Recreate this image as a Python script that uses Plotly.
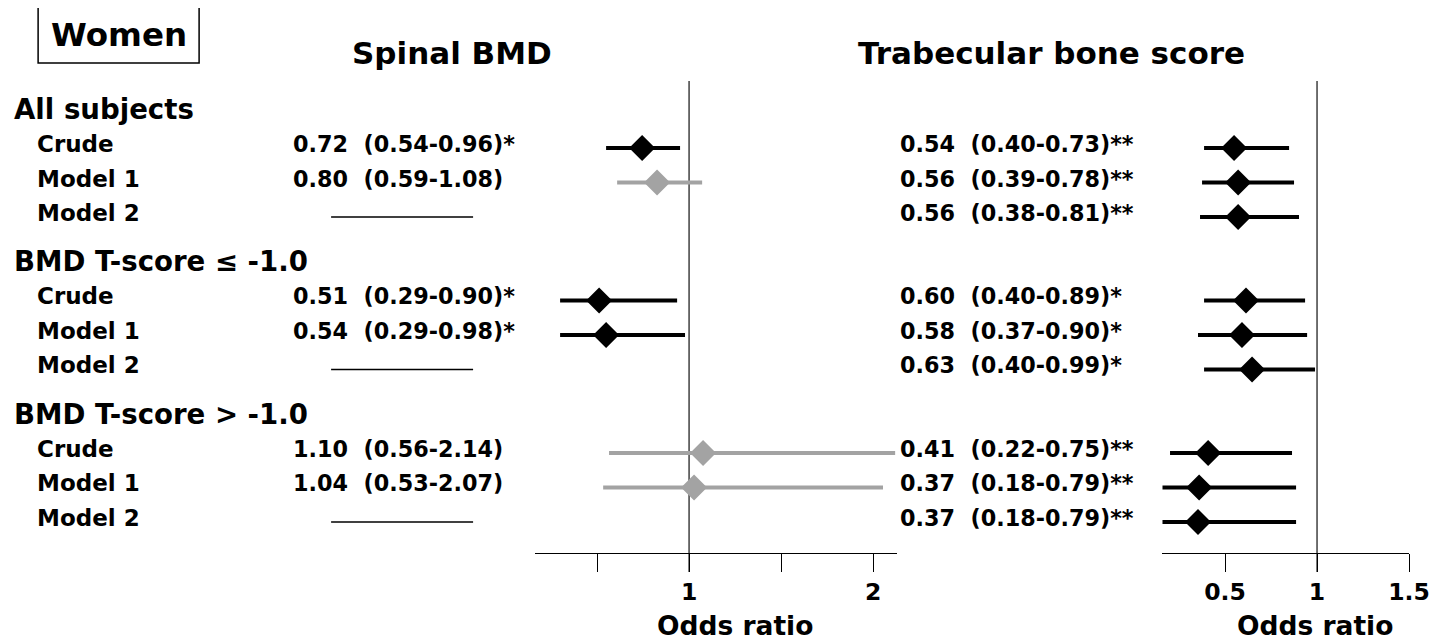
import plotly.graph_objects as go

# The page is shown with an 8px body margin and squeezed horizontally by SX.
# All layout numbers below are screen pixels of the 1449x643 picture.
OFF, SX = 8, 0.9857
W = int(round(1449 / SX - OFF)) + 1
H = 643 - OFF - 1

# ---------------- data ----------------
groups = ["All subjects", "BMD T-score \u2264 -1.0", "BMD T-score > -1.0"]
models = ["Crude", "Model 1", "Model 2"]

# Spinal BMD: odds ratio and CI as drawn (Model 2 not estimated)
bmd_or = [0.745, 0.826, None, 0.511, 0.549, None, 1.076, 1.027, None]
bmd_lo = [0.549, 0.609, None, 0.299, 0.299, None, 0.565, 0.533, None]
bmd_hi = [0.951, 1.071, None, 0.935, 0.978, None, 2.120, 2.054, None]
bmd_txt = ["0.72\u00a0\u00a0(0.54-0.96)*", "0.80\u00a0\u00a0(0.59-1.08)", None,
           "0.51\u00a0\u00a0(0.29-0.90)*", "0.54\u00a0\u00a0(0.29-0.98)*", None,
           "1.10\u00a0\u00a0(0.56-2.14)", "1.04\u00a0\u00a0(0.53-2.07)", None]

# Trabecular bone score
tbs_or = [0.549, 0.571, 0.571, 0.614, 0.592, 0.647, 0.408, 0.359, 0.353]
tbs_lo = [0.386, 0.375, 0.364, 0.386, 0.353, 0.386, 0.201, 0.160, 0.160]
tbs_hi = [0.848, 0.875, 0.902, 0.935, 0.946, 0.989, 0.864, 0.886, 0.886]
tbs_txt = ["0.54\u00a0\u00a0(0.40-0.73)**", "0.56\u00a0\u00a0(0.39-0.78)**", "0.56\u00a0\u00a0(0.38-0.81)**",
           "0.60\u00a0\u00a0(0.40-0.89)*", "0.58\u00a0\u00a0(0.37-0.90)*", "0.63\u00a0\u00a0(0.40-0.99)*",
           "0.41\u00a0\u00a0(0.22-0.75)**", "0.37\u00a0\u00a0(0.18-0.79)**", "0.37\u00a0\u00a0(0.18-0.79)**"]

bmd_ticks = [0.5, 1, 1.5, 2]
bmd_ticktext = ["", "1", "", "2"]
tbs_ticks = [0.5, 1, 1.5]
tbs_ticktext = ["0.5", "1", "1.5"]

# ---------------- layout helpers ----------------
GAP = 0.42          # extra spacing between groups (row units)
ROW_PX = 34.5       # height of one row (screen px)
ROW0_PX = 113.5     # screen pixel of row position 0

header_pos = [g * (4 + GAP) for g in range(len(groups))]
row_pos = [header_pos[g] + 1 + k for g in range(len(groups)) for k in range(len(models))]
row_lab = [m for g in groups for m in models]

def px(x):
    return (x / SX - OFF) / W

def py(y):
    return 1 - (y - OFF) / H

BLACK = "#000000"
GRAY = "#a3a3a3"
FONT = "DejaVu Sans"

L0, L1, L_ONE, UNIT = 535, 897, 689, 184
R0, R1, R_ONE = 1162, 1409, 1317
AXIS_Y = 553

fig = go.Figure()

def add_panel(vals, lo, hi, txt, xa):
    for sig, col in ((True, BLACK), (False, GRAY)):
        xs, ys, ep, em = [], [], [], []
        for v, l, h, t, p in zip(vals, lo, hi, txt, row_pos):
            if v is None or ("*" in t) != sig:
                continue
            xs.append(v); ys.append(p); ep.append(h - v); em.append(v - l)
        if not xs:
            continue
        fig.add_trace(go.Scatter(
            x=xs, y=ys, xaxis=xa, yaxis="y", mode="markers",
            marker=dict(symbol="diamond", size=20, color=col),
            error_x=dict(type="data", symmetric=False, array=ep, arrayminus=em,
                         width=0, thickness=4, color=col),
            showlegend=False, hoverinfo="skip", cliponaxis=False))

add_panel(bmd_or, bmd_lo, bmd_hi, bmd_txt, "x")
add_panel(tbs_or, tbs_lo, tbs_hi, tbs_txt, "x2")

ann = []
def text(x, y, s, size=23, xanchor="left", yref="y", yshift=4):
    ann.append(dict(x=x, y=y, xref="paper", yref=yref, text=s, showarrow=False,
                    xanchor=xanchor, yanchor="middle", yshift=yshift,
                    font=dict(family=FONT, size=size, color=BLACK, weight="bold")))

text(px(119), py(35), "Women", size=32.5, xanchor="center", yref="paper", yshift=0)
text(px(452), py(53), "Spinal BMD", size=31, xanchor="center", yref="paper", yshift=0)
text(px(1051), py(53), "Trabecular bone score", size=31, xanchor="center", yref="paper", yshift=0)

for g, p in zip(groups, header_pos):
    text(px(12), p, g, size=27.6)
for lab, p in zip(row_lab, row_pos):
    text(px(35), p, lab, size=23)

for t, p in zip(bmd_txt, row_pos):
    if t is not None:
        text(px(291), p, t, size=22.3)
for t, p in zip(tbs_txt, row_pos):
    text(px(898), p, t, size=22.3)

text(px(735), py(625), "Odds ratio", size=26.5, xanchor="center", yref="paper", yshift=0)
text(px(1315), py(625), "Odds ratio", size=26.5, xanchor="center", yref="paper", yshift=0)

shapes = []
shapes.append(dict(type="rect", xref="paper", yref="paper", x0=px(38), x1=px(199),
                   y0=py(63), y1=py(7), line=dict(color=BLACK, width=1.5)))
for xr in ("x", "x2"):
    shapes.append(dict(type="line", xref=xr, yref="paper", x0=1, x1=1,
                       y0=py(572), y1=py(81), line=dict(color="#404040", width=1.5),
                       layer="below"))
for v, p in zip(bmd_or, row_pos):
    if v is None:
        shapes.append(dict(type="line", xref="paper", yref="y", x0=px(331), x1=px(473),
                           y0=p, y1=p, line=dict(color=BLACK, width=1.3)))

lrange = [1 - (L_ONE - L0) / UNIT, 1 + (L1 - L_ONE) / UNIT]
rrange = [1 - (R_ONE - R0) / UNIT, 1 + (R1 - R_ONE) / UNIT]
pos = py(AXIS_Y)
tickfont = dict(family=FONT, size=23.5, color=BLACK, weight="bold")

def axis(domain, rng, tv, tt, ticks, showline, labels, overlay=None):
    d = dict(range=rng, anchor="free", position=pos, showgrid=False, zeroline=False,
             tickmode="array", tickvals=tv, ticktext=tt, ticks=ticks, ticklen=18,
             tickwidth=1.3, tickcolor=BLACK, showline=showline, linecolor=BLACK,
             linewidth=1.3, showticklabels=labels, tickfont=tickfont,
             ticklabelstandoff=0, fixedrange=True)
    if overlay:
        d["overlaying"] = overlay
    else:
        d["domain"] = domain
    return d

# y axis: row positions -> screen pixels
y_bottom = (OFF + H - ROW0_PX) / ROW_PX
y_top = (OFF - ROW0_PX) / ROW_PX

fig.update_layout(
    width=W, height=H, margin=dict(l=0, r=0, t=0, b=0),
    paper_bgcolor="white", plot_bgcolor="white",
    font=dict(family=FONT, size=23, color=BLACK, weight="bold"),
    xaxis=axis([px(L0), px(L1)], lrange, bmd_ticks, bmd_ticktext, "outside", True, True),
    xaxis2=axis([px(R0), px(R1)], rrange, tbs_ticks, tbs_ticktext, "outside", True, True),
    xaxis3=axis(None, lrange, bmd_ticks, bmd_ticktext, "inside", False, False, overlay="x"),
    xaxis4=axis(None, rrange, tbs_ticks, tbs_ticktext, "inside", False, False, overlay="x2"),
    yaxis=dict(range=[y_bottom, y_top], domain=[0, 1], visible=False, fixedrange=True),
    annotations=ann, shapes=shapes, showlegend=False,
)

fig.write_html("out.html")
